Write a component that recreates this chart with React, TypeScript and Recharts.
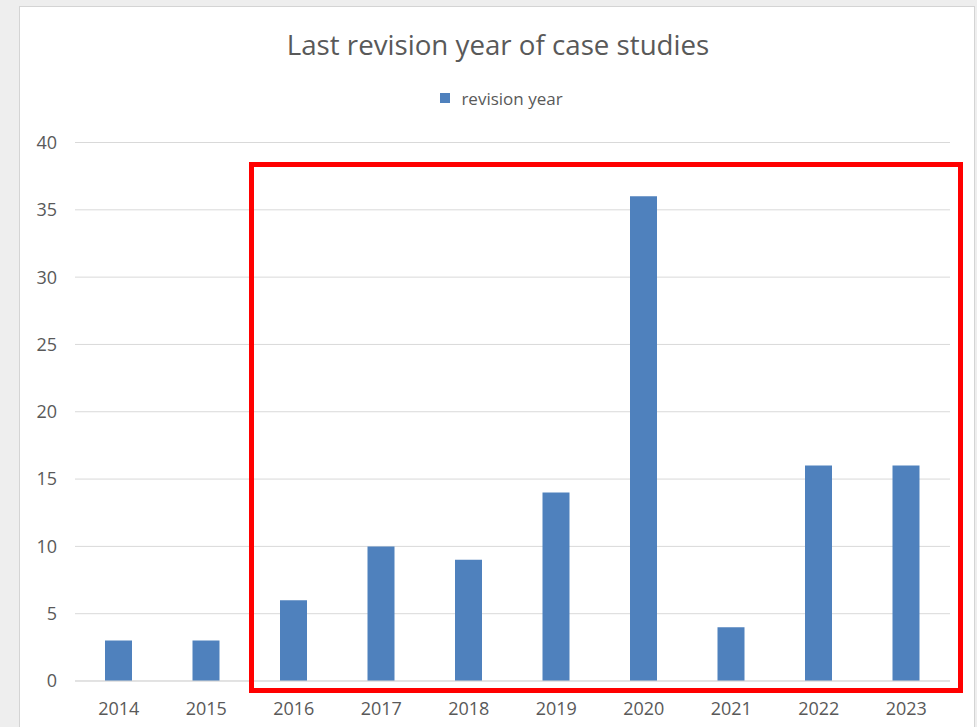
import React from "react";
import { BarChart, Bar, XAxis, YAxis, CartesianGrid, Legend } from "recharts";

const years = ["2014", "2015", "2016", "2017", "2018", "2019", "2020", "2021", "2022", "2023"];
const revisionCounts = [3, 3, 6, 10, 9, 14, 36, 4, 16, 16];
const yTicks = [0, 5, 10, 15, 20, 25, 30, 35, 40];

const chartData = years.map((year, i) => ({ year, "revision year": revisionCounts[i] }));

const FONT = "'Open Sans', 'Noto Sans', sans-serif";
const TEXT = "#595959";

// legend like the office one: small square, wide gap before the label
const renderLegend = (props: any) => {
  const { payload } = props;
  return (
    <div style={{ textAlign: "center", fontSize: 17, fontFamily: FONT, color: TEXT }}>
      {(payload || []).map((entry: any) => (
        <span key={entry.value} style={{ display: "inline-flex", alignItems: "center" }}>
          <span
            style={{
              display: "inline-block",
              width: 10,
              height: 10,
              background: entry.color,
              marginRight: 11,
            }}
          />
          {entry.value}
        </span>
      ))}
    </div>
  );
};

export default function App() {
  return (
    <div
      style={{
        position: "absolute",
        left: 0,
        top: 0,
        width: 977,
        height: 727,
        overflow: "hidden",
        background: "#eeeeee",
        fontFamily: FONT,
      }}
    >
      {/* white chart panel */}
      <div
        style={{
          position: "absolute",
          left: 19,
          top: 6,
          width: 954,
          height: 740,
          background: "#ffffff",
          border: "1px solid #d4d4d4",
        }}
      />
      <div
        style={{
          position: "absolute",
          left: 0,
          width: 996,
          top: 26,
          textAlign: "center",
          fontSize: 27.7,
          color: TEXT,
          lineHeight: "36px",
        }}
      >
        Last revision year of case studies
      </div>
      <div style={{ position: "absolute", left: 0, top: 0 }}>
        <BarChart
          width={977}
          height={727}
          data={chartData}
          margin={{ top: 118, right: 27, bottom: 16, left: 15 }}
        >
          <CartesianGrid vertical={false} stroke="#d9d9d9" />
          <XAxis
            dataKey="year"
            axisLine={{ stroke: "#d9d9d9" }}
            tickLine={false}
            tickSize={0}
            tickMargin={21}
            tick={{ fill: TEXT, fontSize: 18, fontFamily: FONT }}
            height={30}
          />
          <YAxis
            domain={[0, 40]}
            ticks={yTicks}
            axisLine={false}
            tickLine={false}
            tickSize={0}
            tickMargin={18}
            width={60}
            tick={{ fill: TEXT, fontSize: 18, fontFamily: FONT }}
          />
          <Legend
            verticalAlign="top"
            align="center"
            wrapperStyle={{ top: 85, left: 34 }}
            content={renderLegend}
          />
          <Bar dataKey="revision year" fill="#4f81bd" barSize={27} isAnimationActive={false} />
        </BarChart>
      </div>
      {/* red highlight box */}
      <div
        style={{
          position: "absolute",
          left: 249,
          top: 162,
          width: 704,
          height: 521,
          border: "5px solid #ff0000",
        }}
      />
    </div>
  );
}
